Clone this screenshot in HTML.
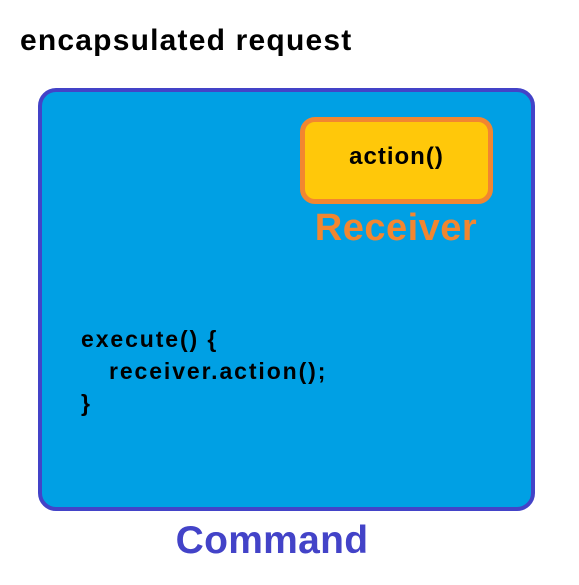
<!DOCTYPE html>
<html><head><style>
body{margin:0;width:579px;height:585px;background:#fff;position:relative;overflow:hidden;font-family:"Liberation Sans",sans-serif;font-weight:bold}
div{position:absolute}
.t{white-space:nowrap}
</style></head><body>
<div class="t" style="left:20px;top:24px;font-size:30px;letter-spacing:1.2px;color:#000">encapsulated request</div>
<div style="left:38px;top:88px;width:489px;height:415px;background:#00A0E4;border:4px solid #4343C8;border-radius:18px"></div>
<div style="left:300px;top:117px;width:183px;height:77px;background:#FFC80A;border:5px solid #F28630;border-radius:15px"></div>
<div class="t" style="left:300px;width:193px;text-align:center;top:143px;font-size:24px;letter-spacing:1px;color:#000">action()</div>
<div class="t" style="left:296px;width:200px;text-align:center;top:207px;font-size:38px;letter-spacing:0.5px;color:#F28630">Receiver</div>
<div class="t" style="left:81px;top:323px;font-size:23px;letter-spacing:1.9px;color:#000;line-height:32px">execute() {<br><span style="margin-left:28px">receiver.action();</span><br>}</div>
<div class="t" style="left:160px;width:224px;text-align:center;top:519px;font-size:39px;letter-spacing:0.3px;color:#4343C8">Command</div>
</body></html>
